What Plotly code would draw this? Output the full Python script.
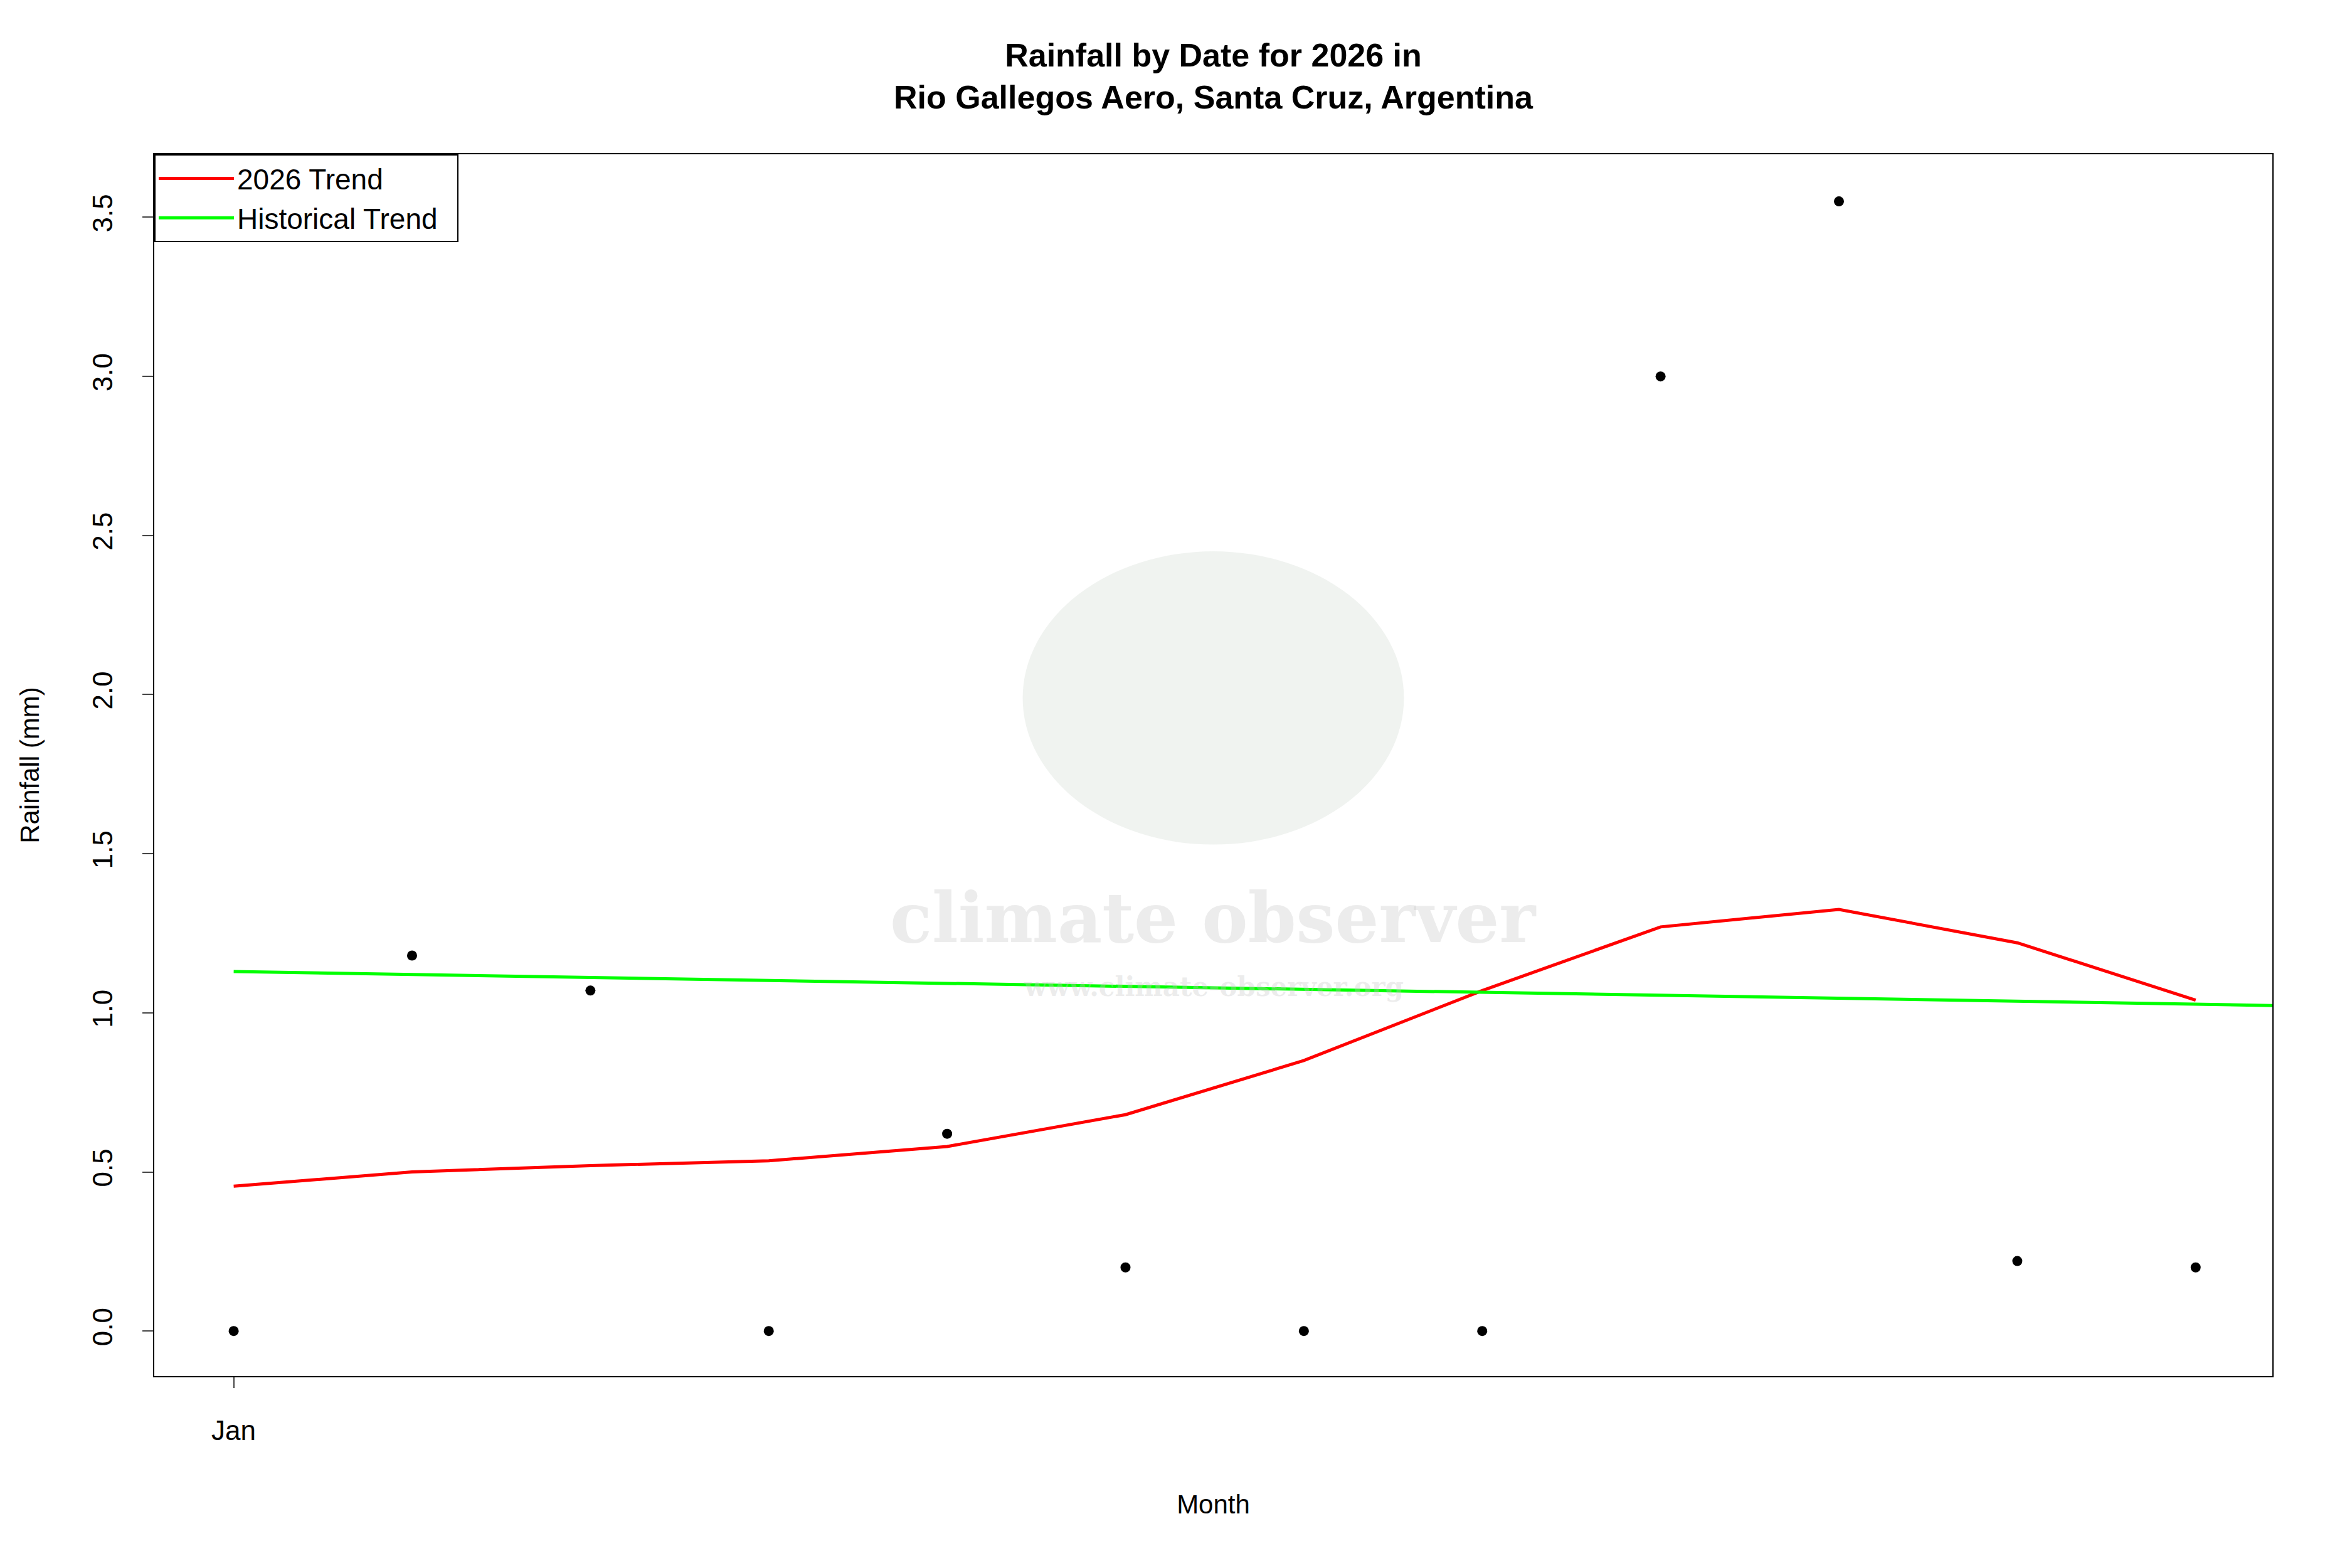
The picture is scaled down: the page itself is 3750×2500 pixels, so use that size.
import plotly.graph_objects as go

dates = ["2026-01-%02d" % d for d in range(1, 13)]
rain = [0, 1.18, 1.07, 0, 0.62, 0.2, 0, 0, 3.0, 3.55, 0.22, 0.2]
trend_2026 = [0.455, 0.50, 0.52, 0.535, 0.58, 0.68, 0.85, 1.07, 1.27, 1.325, 1.22, 1.04]
hist_x = ["2026-01-01", "2026-01-12 10:19"]
hist_y = [1.13, 1.023]

F = "Liberation Sans, Arial, sans-serif"
fig = go.Figure()
# watermark
fig.add_shape(type="circle", xref="paper", yref="paper", x0=0.410, x1=0.590, y0=0.435, y1=0.675,
              fillcolor="rgba(225,232,225,0.5)", line_width=0, layer="below")
fig.add_annotation(xref="paper", yref="paper", x=0.5, y=0.375, text="<b>climate observer</b>",
                   showarrow=False, font=dict(family="DejaVu Serif", size=110, color="rgba(200,200,200,0.35)"))
fig.add_annotation(xref="paper", yref="paper", x=0.5, y=0.305, text="<b>www.climate-observer.org</b>",
                   showarrow=False, font=dict(family="DejaVu Serif", size=42, color="rgba(200,200,200,0.35)"))

fig.add_trace(go.Scatter(x=dates, y=rain, mode="markers", marker=dict(color="black", size=16),
                         showlegend=False))
fig.add_trace(go.Scatter(x=dates, y=trend_2026, mode="lines", line=dict(color="#ff0000", width=5),
                         name="2026 Trend  "))
fig.add_trace(go.Scatter(x=hist_x, y=hist_y, mode="lines", line=dict(color="#00ff00", width=5),
                         name="Historical Trend  "))

fig.update_layout(
    width=3750, height=2500, paper_bgcolor="white", plot_bgcolor="white",
    margin=dict(l=238, r=135, t=238, b=314, autoexpand=False),
    font=dict(family=F, size=44, color="black"),
    title=dict(text="<b>Rainfall by Date for 2026 in<br>Rio Gallegos Aero, Santa Cruz, Argentina</b>",
               x=0.5, xref="paper", xanchor="center", y=0.961, yanchor="middle", yref="container",
               font=dict(size=52)),
    legend=dict(x=0, y=1, xanchor="left", yanchor="top", bordercolor="black", borderwidth=2,
                bgcolor="white", font=dict(size=46), tracegroupgap=0, itemwidth=120),
)
fig.update_xaxes(type="date", range=["2025-12-31 13:19", "2026-01-12 10:19"],
                 tickvals=["2026-01-01"], ticktext=["Jan"], ticks="outside", ticklen=17,
                 tickwidth=2, showgrid=False, zeroline=False, showline=True, linecolor="black",
                 linewidth=2, mirror=True, ticklabelstandoff=30, automargin=False,
                 title=dict(text="Month", standoff=80, font=dict(size=42)))
fig.update_yaxes(range=[-0.1415, 3.698], tickvals=[0, 0.5, 1, 1.5, 2, 2.5, 3, 3.5],
                 ticktext=["0.0", "0.5", "1.0", "1.5", "2.0", "2.5", "3.0", "3.5"], tickangle=-90,
                 ticks="outside", ticklen=17, tickwidth=2, showgrid=False, zeroline=False,
                 showline=True, linecolor="black", linewidth=2, mirror=True, ticklabelstandoff=30,
                 automargin=False, title=dict(text="Rainfall (mm)", standoff=64, font=dict(size=42)))
fig.write_html("out.html")
